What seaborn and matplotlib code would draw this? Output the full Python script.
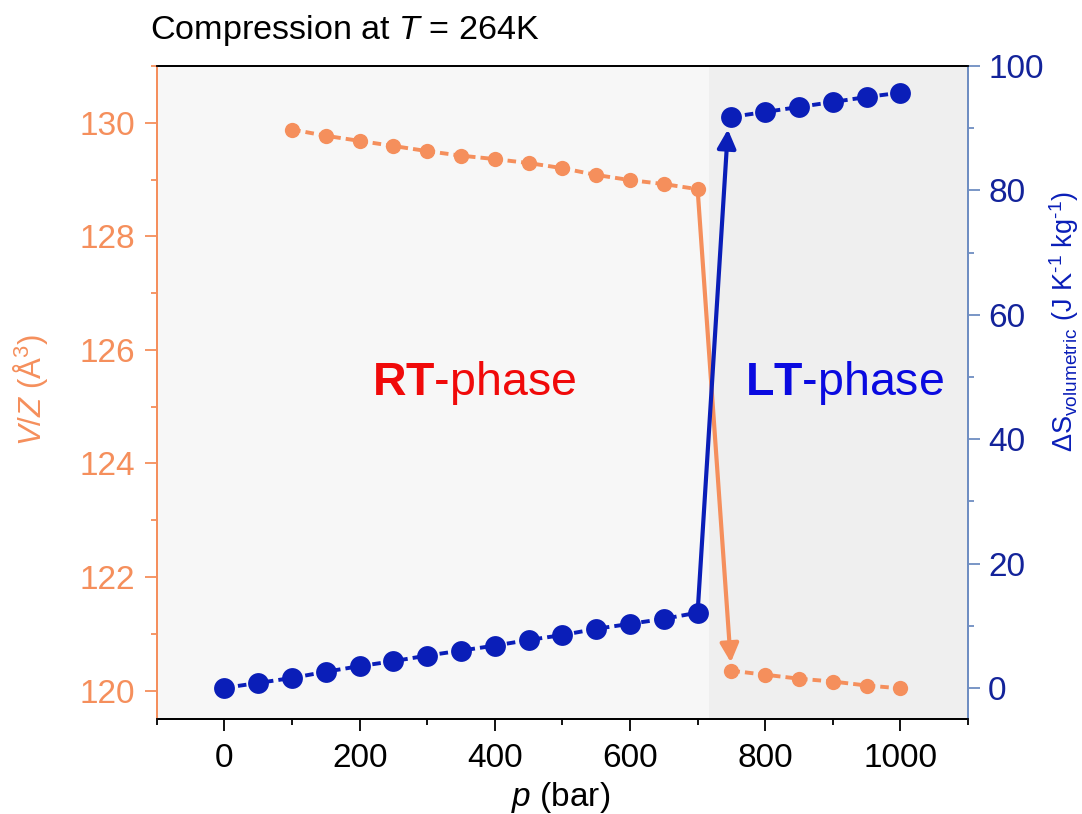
import numpy as np
import pandas as pd
import matplotlib.pyplot as plt
import seaborn as sns
from matplotlib.ticker import MultipleLocator

sns.set_theme(style="ticks")
plt.rcParams["font.family"] = ["Liberation Sans", "DejaVu Sans"]
plt.rcParams["mathtext.fontset"] = "custom"
plt.rcParams["mathtext.rm"] = "Liberation Sans"
plt.rcParams["mathtext.it"] = "Liberation Sans:italic"
plt.rcParams["mathtext.bf"] = "Liberation Sans:bold"
plt.rcParams["text.color"] = "black"
plt.rcParams["axes.labelcolor"] = "black"

ORANGE = "#F58F5C"
BLUE = "#0A1EB8"
RSPINE = "#6E8EC2"

# ---- data ----
p_rt = [100, 150, 200, 250, 300, 350, 400, 450, 500, 550, 600, 650, 700]
vz_rt = [129.88, 129.77, 129.68, 129.59, 129.50, 129.42, 129.36, 129.29,
         129.20, 129.08, 128.99, 128.92, 128.83]
p_lt = [750, 800, 850, 900, 950, 1000]
vz_lt = [120.35, 120.28, 120.21, 120.16, 120.09, 120.04]

p_ds_rt = [0, 50, 100, 150, 200, 250, 300, 350, 400, 450, 500, 550, 600, 650, 700]
ds_rt = [0.0, 0.8, 1.6, 2.6, 3.5, 4.3, 5.2, 6.0, 6.8, 7.7, 8.5, 9.5, 10.3, 11.1, 12.1]
p_ds_lt = [750, 800, 850, 900, 950, 1000]
ds_lt = [91.8, 92.6, 93.4, 94.2, 95.0, 95.7]

lt_start = 717

fig = plt.figure(figsize=(10.82, 8.14), dpi=100)
ax = fig.add_axes([0.145, 0.1167, 0.7496, 0.8023])
ax2 = ax.twinx()
ax.set_zorder(1); ax2.set_zorder(2); ax2.patch.set_visible(False)

ax.set_facecolor("#F7F7F7")
ax.axvspan(lt_start, 1100, color="#EFEFEF", zorder=0, lw=0)

dash = (0, (2.2, 1.3))
for x, y in [(p_rt, vz_rt), (p_lt, vz_lt)]:
    sns.lineplot(x=x, y=y, ax=ax, color=ORANGE, lw=2.8, linestyle=dash,
                 marker="o", markersize=11, markeredgewidth=0)
for x, y in [(p_ds_rt, ds_rt), (p_ds_lt, ds_lt)]:
    sns.lineplot(x=x, y=y, ax=ax2, color=BLUE, lw=2.8, linestyle=dash,
                 marker="o", markersize=15, markeredgewidth=0)

# transition arrows
ax.annotate("", xy=(p_lt[0], vz_lt[0]), xytext=(p_rt[-1], vz_rt[-1]),
            arrowprops=dict(arrowstyle="-|>", color=ORANGE, lw=3,
                            mutation_scale=28, shrinkA=0, shrinkB=6))
ax2.annotate("", xy=(p_ds_lt[0] - 4, ds_lt[0]), xytext=(p_ds_rt[-1], ds_rt[-1]),
             arrowprops=dict(arrowstyle="-|>", color=BLUE, lw=3,
                             mutation_scale=28, shrinkA=0, shrinkB=9))

ax.set_xlim(-100, 1100)
ax.set_ylim(119.5, 131)
ax2.set_ylim(-5, 100)

ax.xaxis.set_major_locator(MultipleLocator(200))
ax.xaxis.set_minor_locator(MultipleLocator(100))
ax.yaxis.set_major_locator(MultipleLocator(2))
ax.yaxis.set_minor_locator(MultipleLocator(1))
ax2.yaxis.set_major_locator(MultipleLocator(20))
ax2.yaxis.set_minor_locator(MultipleLocator(10))

ax.tick_params(axis="x", which="major", length=8.5, width=1.3, labelsize=24,
               colors="black", pad=9)
ax.tick_params(axis="x", which="minor", length=4.5, width=1.3, colors="black")
ax.tick_params(axis="y", which="major", length=8.5, width=1.3, labelsize=24,
               colors=ORANGE, pad=7)
ax.tick_params(axis="y", which="minor", length=4.5, width=1.3, colors=ORANGE)
ax2.tick_params(axis="y", which="major", length=8.5, width=1.3, labelsize=24,
                colors=RSPINE, labelcolor="#13239A", pad=6)
ax2.tick_params(axis="y", which="minor", length=4.5, width=1.3, colors=RSPINE)

for a in (ax, ax2):
    for s in a.spines.values():
        s.set_linewidth(1.3)
    a.spines["left"].set_color(ORANGE)
    a.spines["right"].set_color(RSPINE)
    a.spines["top"].set_color("black")
    a.spines["bottom"].set_color("black")

ax.set_xlabel(r"$\it{p}$ (bar)", fontsize=24)
ax.xaxis.set_label_coords(0.498, -0.094)
ax.set_ylabel(r"$\it{V/Z}$ (Å$^3$)", fontsize=22.5, color=ORANGE)
ax.yaxis.set_label_coords(-0.132, 0.504)
ax2.set_ylabel(r"$\Delta$S$_{\rm volumetric}$ (J K$^{\text{-1}}$ kg$^{\text{-1}}$)",
               fontsize=19.5, color=BLUE, rotation=90)
ax2.yaxis.set_label_coords(1.098, 0.608)

ax.text(369, 125.42, r"$\bf{RT}$-phase", fontsize=33.5, color="#F00A0A",
        ha="center", va="center")
ax.text(917, 125.42, r"$\bf{LT}$-phase", fontsize=33.5, color="#0A0AE0",
        ha="center", va="center")

fig.text(0.139, 0.962, r"Compression at $\it{T}$ = 264K", fontsize=24.6,
         ha="left", va="center")

fig.savefig("out.png", dpi=100)
